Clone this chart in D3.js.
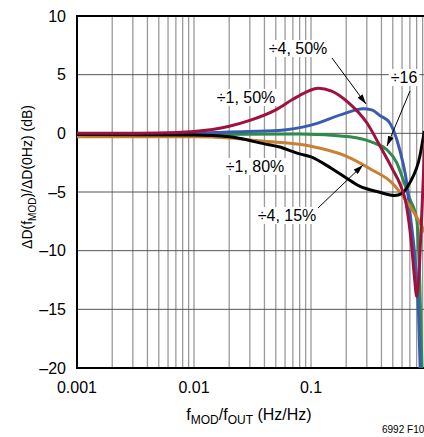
<!DOCTYPE html>
<html>
<head>
<meta charset="utf-8">
<script src="https://cdn.jsdelivr.net/npm/d3@7"></script>
<style>
  body { margin: 0; background: #fff; }
  svg { display: block; font-family: "Liberation Sans", Arial, sans-serif; }
</style>
</head>
<body>
<div id="chart"></div>
<script>
// values: [fMOD/fOUT, dB]
var div1_50 = [[0.001, 0], [0.005, 0.03], [0.01, 0.15], [0.02, 0.6], [0.03, 1.1], [0.05, 2.0],
  [0.07, 2.9], [0.09, 3.5], [0.115, 3.85], [0.15, 3.6], [0.21, 2.6], [0.3, 0.9], [0.39, -1.1],
  [0.5, -3.1], [0.575, -4.3], [0.65, -6.0], [0.72, -9.3], [0.77, -12.5], [0.80, -13.9],
  [0.835, -12.2], [0.87, -8.5], [0.91, -4.0], [0.95, 0]];
var div4_50 = [[0.001, -0.05], [0.01, 0], [0.02, 0.12], [0.053, 0.25], [0.1, 0.7], [0.195, 1.7],
  [0.278, 2.1], [0.33, 2.0], [0.39, 1.5], [0.47, 0.9], [0.54, -0.5], [0.61, -2.5], [0.65, -3.9],
  [0.70, -6.7], [0.78, -11], [0.83, -15.3], [0.86, -20.5]];
var div16 = [[0.001, -0.1], [0.01, -0.1], [0.08, -0.05], [0.215, -0.3], [0.34, -0.8], [0.445, -1.4],
  [0.54, -2.5], [0.61, -3.9], [0.70, -5.6], [0.80, -7.3], [0.85, -12.5], [0.89, -20.5]];
var div4_15 = [[0.001, -0.3], [0.01, -0.3], [0.02, -0.4], [0.038, -0.66], [0.1, -1.1], [0.195, -1.9],
  [0.33, -3.1], [0.49, -4.2], [0.636, -5.6], [0.70, -6.2], [0.85, -7.6], [0.95, -8.5]];
var div1_80 = [[0.001, -0.1], [0.01, -0.15], [0.02, -0.3], [0.04, -0.9], [0.053, -1.15], [0.08, -1.75],
  [0.1, -2.0], [0.15, -3.0], [0.2, -3.8], [0.26, -4.5], [0.38, -5.0], [0.52, -5.3], [0.6, -5.1],
  [0.70, -4.2], [0.85, -2.0], [0.93, 0.2]];

var yTicks = [-20, -15, -10, -5, 0, 5, 10];
var xTicks = [0.001, 0.01, 0.1];
var xTickLabels = ["0.001", "0.01", "0.1"];

var width = 424, height = 437;
var margin = {left: 77, top: 16, bottom: 69};

var svg = d3.select("#chart").append("svg")
  .attr("width", width)
  .attr("height", height);

var x = d3.scaleLog().domain([0.001, 1]).range([margin.left, margin.left + 351]);
var y = d3.scaleLinear().domain([-20, 10]).range([height - margin.bottom, margin.top]);

// vertical grid (2..9 in each decade)
var minor = [];
[0.001, 0.01, 0.1].forEach(function (d) {
  for (var k = 1; k <= 9; k++) minor.push(d * k);
});
svg.append("g").selectAll("line")
  .data(minor.filter(function (d) { return d > 0.001; }))
  .enter().append("line")
  .attr("x1", function (d) { return x(d); })
  .attr("x2", function (d) { return x(d); })
  .attr("y1", y(10))
  .attr("y2", y(-20))
  .attr("stroke", "#9a9a9a")
  .attr("stroke-width", 1.3);

svg.append("g").selectAll("line")
  .data([-15, -10, -5, 0, 5])
  .enter().append("line")
  .attr("x1", x(0.001))
  .attr("x2", width)
  .attr("y1", function (d) { return y(d); })
  .attr("y2", function (d) { return y(d); })
  .attr("stroke", "#555")
  .attr("stroke-width", 1);

// frame
svg.append("path")
  .attr("d", "M" + width + "," + y(10) + "H" + x(0.001) + "V" + y(-20) + "H" + width)
  .attr("fill", "none")
  .attr("stroke", "#000")
  .attr("stroke-width", 2);

// tick labels
svg.append("g").selectAll("text")
  .data(yTicks)
  .enter().append("text")
  .attr("x", 66)
  .attr("y", function (d) { return y(d); })
  .attr("dy", "0.36em")
  .attr("text-anchor", "end")
  .style("font-size", "16px")
  .text(function (d) { return d < 0 ? "\u2013" + Math.abs(d) : d; });

svg.append("g").selectAll("text")
  .data(xTicks)
  .enter().append("text")
  .attr("x", function (d) { return x(d); })
  .attr("y", 393)
  .attr("text-anchor", "middle")
  .style("font-size", "16px")
  .text(function (d, i) { return xTickLabels[i]; });

// axis titles
var xt = svg.append("text")
  .attr("x", 249)
  .attr("y", 420)
  .attr("text-anchor", "middle")
  .style("font-size", "16px");
xt.append("tspan").text("f");
xt.append("tspan").attr("dy", 4).style("font-size", "12px").text("MOD");
xt.append("tspan").attr("dy", -4).text("/f");
xt.append("tspan").attr("dy", 4).style("font-size", "12px").text("OUT");
xt.append("tspan").attr("dy", -4).text(" (Hz/Hz)");

var yt = svg.append("text")
  .attr("transform", "translate(32,177) rotate(-90)")
  .attr("text-anchor", "middle")
  .style("font-size", "14px");
yt.append("tspan").text("\u0394D(f");
yt.append("tspan").attr("dy", 4).style("font-size", "10px").text("MOD");
yt.append("tspan").attr("dy", -4).text(")/\u0394D(0Hz) (dB)");

svg.append("text")
  .attr("x", 382)
  .attr("y", 433)
  .style("font-size", "10px")
  .text("6992 F10");

// curves
var line = d3.line()
  .x(function (d) { return x(d[0]); })
  .y(function (d) { return y(d[1]); })
  .curve(d3.curveMonotoneX);

var series = [
  {data: div16, color: "#2e8b48"},
  {data: div4_50, color: "#3a5bb0"},
  {data: div4_15, color: "#c98030"},
  {data: div1_80, color: "#000000"},
  {data: div1_50, color: "#a0123e"}
];

svg.append("clipPath").attr("id", "clip")
  .append("rect")
  .attr("x", x(0.001)).attr("y", y(10))
  .attr("width", 360).attr("height", y(-20) - y(10));

svg.append("g").attr("clip-path", "url(#clip)")
  .selectAll("path")
  .data(series)
  .enter().append("path")
  .attr("d", function (d) { return line(d.data); })
  .attr("fill", "none")
  .attr("stroke", function (d) { return d.color; })
  .attr("stroke-width", 3);

// labels with white boxes
svg.append("defs").append("marker")
  .attr("id", "arrow")
  .attr("viewBox", "0 0 10 6")
  .attr("refX", 10).attr("refY", 3)
  .attr("markerWidth", 10).attr("markerHeight", 6)
  .attr("markerUnits", "userSpaceOnUse")
  .attr("orient", "auto")
  .append("path")
  .attr("d", "M0,0L10,3L0,6Z")
  .attr("fill", "#000");

var labels = [
  {t: "\u00f74, 50%", x: 298, y: 54},
  {t: "\u00f716", x: 404, y: 83},
  {t: "\u00f71, 50%", x: 246, y: 103},
  {t: "\u00f71, 80%", x: 255, y: 172},
  {t: "\u00f74, 15%", x: 287, y: 221}
];
var arrows = [
  [332, 58, 366, 104],
  [410, 91, 387, 146],
  [318, 208, 363, 165]
];

var lg = svg.append("g").selectAll("g")
  .data(labels)
  .enter().append("g");
lg.append("text")
  .attr("x", function (d) { return d.x; })
  .attr("y", function (d) { return d.y; })
  .attr("text-anchor", "middle")
  .style("font-size", "16px")
  .text(function (d) { return d.t; })
  .each(function () {
    var b = this.getBBox();
    d3.select(this.parentNode).insert("rect", "text")
      .attr("x", b.x - 2).attr("y", b.y)
      .attr("width", b.width + 4).attr("height", b.height)
      .attr("fill", "#fff");
  });

svg.append("g").selectAll("line")
  .data(arrows)
  .enter().append("line")
  .attr("x1", function (d) { return d[0]; })
  .attr("y1", function (d) { return d[1]; })
  .attr("x2", function (d) { return d[2]; })
  .attr("y2", function (d) { return d[3]; })
  .attr("stroke", "#000")
  .attr("stroke-width", 1)
  .attr("marker-end", "url(#arrow)");
</script>
</body>
</html>
